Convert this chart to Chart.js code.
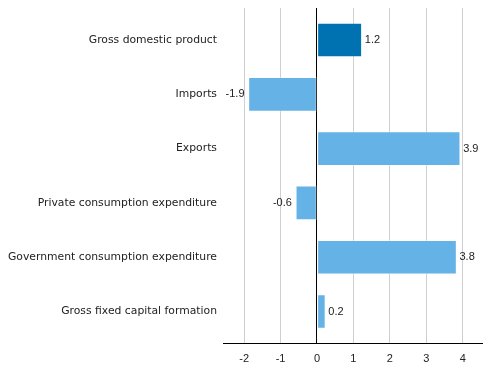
<!DOCTYPE html>
<html>
<head>
<meta charset="utf-8">
<script src="https://cdn.jsdelivr.net/npm/chart.js@4"></script>
<style>
  html, body { margin: 0; padding: 0; background: #fff; }
  #wrap { width: 491px; height: 378px; }
</style>
</head>
<body>
<div id="wrap"><canvas id="barChart"></canvas></div>
<script>
// data
const categories = [
    'Gross domestic product',
    'Imports',
    'Exports',
    'Private consumption expenditure',
    'Government consumption expenditure',
    'Gross fixed capital formation'
];
const changeValues = [1.23, -1.88, 3.93, -0.58, 3.83, 0.23];
const xTickValues = [-2, -1, 0, 1, 2, 3, 4];

const barColors = categories.map((c, i) => i === 0 ? '#0072b2' : '#65b2e6');

// value labels at bar ends
const valueLabels = {
    id: 'valueLabels',
    afterDatasetsDraw(chart) {
        const ctx = chart.ctx;
        const meta = chart.getDatasetMeta(0);
        ctx.save();
        ctx.font = '11px "Liberation Sans", Arial, sans-serif';
        ctx.fillStyle = '#222';
        ctx.textBaseline = 'middle';
        meta.data.forEach((bar, i) => {
            const v = changeValues[i];
            const txt = v.toFixed(1);
            if (v >= 0) {
                ctx.textAlign = 'left';
                ctx.fillText(txt, bar.x + 3, bar.y);
            } else {
                ctx.textAlign = 'right';
                ctx.fillText(txt, bar.x - 4, bar.y);
            }
        });
        ctx.restore();
    }
};

const ctx = document.getElementById('barChart').getContext('2d');
new Chart(ctx, {
    type: 'bar',
    data: {
        datasets: [{
            data: changeValues.map((v, i) => ({ x: v, y: i })),
            backgroundColor: barColors,
            borderColor: 'rgba(255,255,255,0.3)',
            borderWidth: 1,
            borderSkipped: false,
            barThickness: 34
        }]
    },
    options: {
        indexAxis: 'y',
        responsive: true,
        maintainAspectRatio: false,
        animation: false,
        layout: { padding: { top: 0, right: 9, left: 0, bottom: 0 } },
        plugins: {
            legend: { display: false },
            tooltip: { enabled: false }
        },
        scales: {
            x: {
                type: 'linear',
                min: -2.58,
                max: 4.53,
                afterBuildTicks: (axis) => { axis.ticks = xTickValues.map(v => ({ value: v })); },
                afterFit: (axis) => { axis.height = 35; },
                grid: {
                    drawTicks: false,
                    color: (c) => c.tick && c.tick.value === 0 ? '#000' : '#cfcfcf',
                    lineWidth: 1
                },
                border: { display: true, color: '#000', width: 1 },
                ticks: {
                    padding: 9,
                    color: '#222',
                    font: { family: '"Liberation Sans", Arial, sans-serif', size: 11 }
                }
            },
            y: {
                type: 'linear',
                reverse: true,
                offset: false,
                bounds: 'data',
                min: -0.59,
                max: 5.58,
                afterBuildTicks: (axis) => { axis.ticks = categories.map((c, i) => ({ value: i })); },
                afterFit: (axis) => {
                    axis.width = 223;
                    axis.paddingTop = 8;
                    axis.paddingBottom = 0;
                },
                grid: { display: false, drawTicks: false, offset: false },
                border: { display: false },
                ticks: {
                    padding: 6,
                    color: '#222',
                    font: { family: '"DejaVu Sans", sans-serif', size: 10.8 },
                    callback: (value) => categories[value]
                }
            }
        }
    },
    plugins: [valueLabels]
});
</script>
</body>
</html>
